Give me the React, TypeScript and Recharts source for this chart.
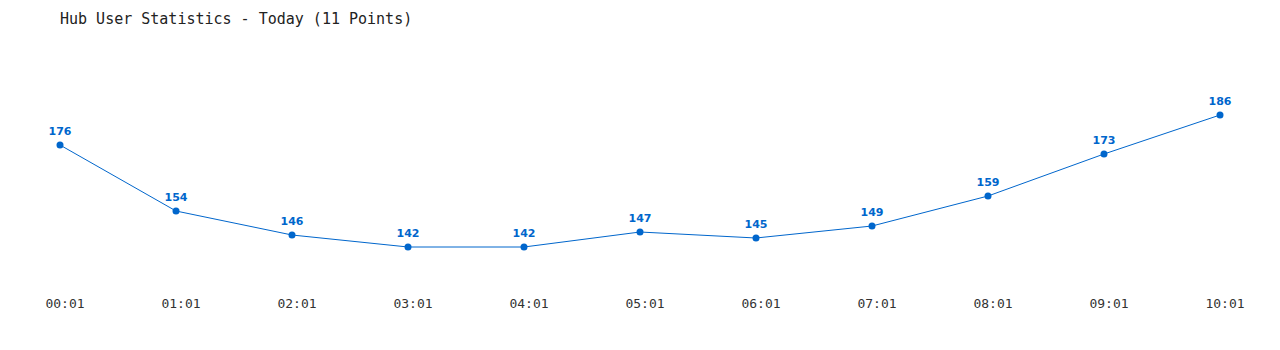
import React from 'react';
import { LineChart, Line, XAxis, YAxis, LabelList } from 'recharts';

const times = ['00:01', '01:01', '02:01', '03:01', '04:01', '05:01', '06:01', '07:01', '08:01', '09:01', '10:01'];
const users = [176, 154, 146, 142, 142, 147, 145, 149, 159, 173, 186];

const data = times.map((t, i) => ({ time: t, users: users[i] }));

const BLUE = '#0066cc';

const App = () => {
  return (
    <div style={{ position: 'relative', width: 1264, height: 334, background: '#fff' }}>
      <div
        style={{
          position: 'absolute',
          left: 52,
          top: 2,
          fontFamily: '"DejaVu Sans Mono", monospace',
          fontSize: 15,
          color: '#222',
          whiteSpace: 'pre',
        }}
      >
        Hub User Statistics - Today (11 Points)
      </div>
      <LineChart width={1264} height={334} data={data} margin={{ top: 65, right: 52, bottom: 23, left: 52 }}>
        <XAxis
          dataKey="time"
          axisLine={false}
          tickLine={false}
          interval={0}
          dx={5}
          dy={2}
          tick={{ fill: '#333', fontSize: 13, fontFamily: '"DejaVu Sans Mono", monospace' }}
        />
        <YAxis hide domain={[128, 200]} allowDataOverflow />
        <Line
          type="linear"
          dataKey="users"
          stroke={BLUE}
          strokeWidth={1}
          dot={{ r: 3.5, fill: BLUE, stroke: BLUE, strokeWidth: 0 }}
          isAnimationActive={false}
        >
          <LabelList
            dataKey="users"
            position="top"
            offset={10}
            style={{ fill: BLUE, fontSize: 11, fontWeight: 'bold', fontFamily: '"DejaVu Sans", sans-serif' }}
          />
        </Line>
      </LineChart>
    </div>
  );
};

export default App;
